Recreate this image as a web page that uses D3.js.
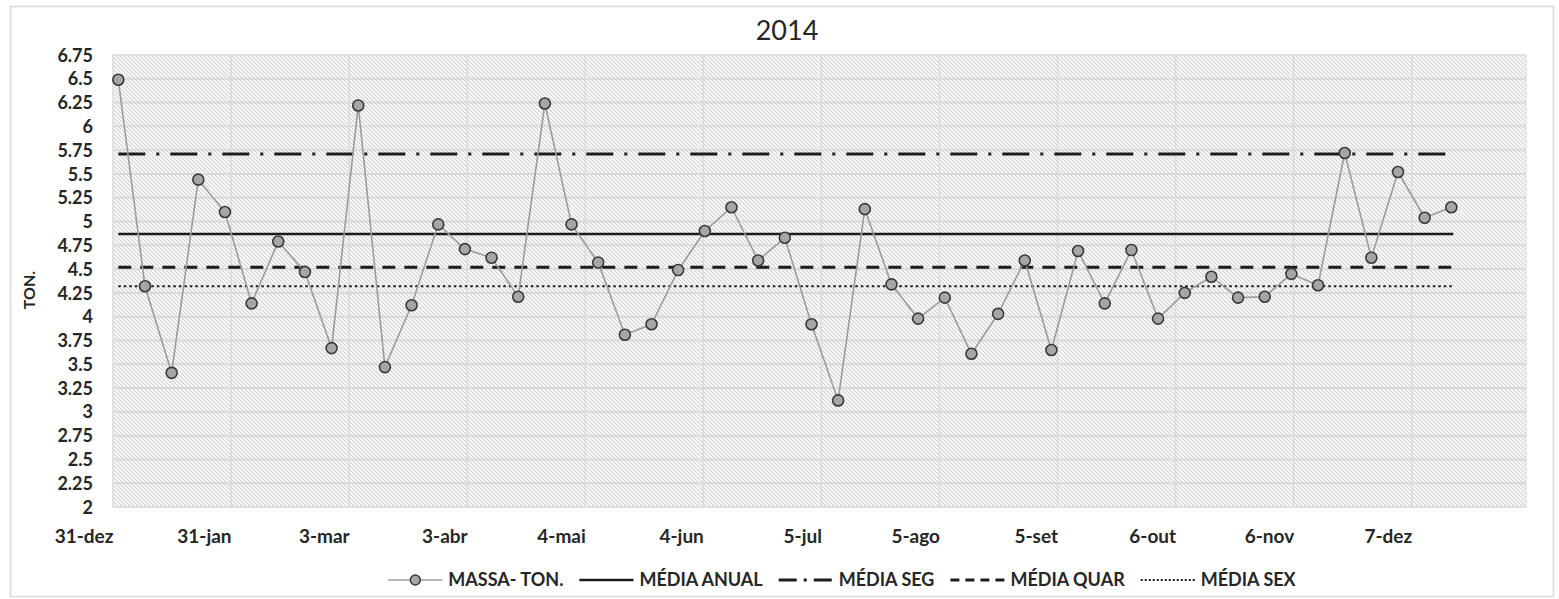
<!DOCTYPE html>
<html>
<head>
<meta charset="utf-8">
<script src="https://cdn.jsdelivr.net/npm/d3@7"></script>
<style>
  html, body { margin: 0; padding: 0; background: #ffffff; }
  svg { display: block; }
  text { font-family: Lato, "Open Sans", sans-serif; fill: #262626; }
</style>
</head>
<body>
<svg id="chart" width="1559" height="599"></svg>
<script>
// ---------- data ----------
const title = "2014";
const yAxisTitle = "TON.";

const dates = [
  "2014-01-01","2014-01-08","2014-01-15","2014-01-22","2014-01-29",
  "2014-02-05","2014-02-12","2014-02-19","2014-02-26",
  "2014-03-05","2014-03-12","2014-03-19","2014-03-26",
  "2014-04-02","2014-04-09","2014-04-16","2014-04-23","2014-04-30",
  "2014-05-07","2014-05-14","2014-05-21","2014-05-28",
  "2014-06-04","2014-06-11","2014-06-18","2014-06-25",
  "2014-07-02","2014-07-09","2014-07-16","2014-07-23","2014-07-30",
  "2014-08-06","2014-08-13","2014-08-20","2014-08-27",
  "2014-09-03","2014-09-10","2014-09-17","2014-09-24",
  "2014-10-01","2014-10-08","2014-10-15","2014-10-22","2014-10-29",
  "2014-11-05","2014-11-12","2014-11-19","2014-11-26",
  "2014-12-03","2014-12-10","2014-12-17"
];

const massa = [
  6.49, 4.32, 3.41, 5.44, 5.10,
  4.14, 4.79, 4.47, 3.67,
  6.22, 3.47, 4.12, 4.97,
  4.71, 4.62, 4.21, 6.24, 4.97,
  4.57, 3.81, 3.92, 4.49,
  4.90, 5.15, 4.59, 4.83,
  3.92, 3.12, 5.13, 4.34, 3.98,
  4.20, 3.61, 4.03, 4.59,
  3.65, 4.69, 4.14, 4.70,
  3.98, 4.25, 4.42, 4.20, 4.21,
  4.45, 4.33, 5.72, 4.62,
  5.52, 5.04, 5.15
];

const mediaAnual = 4.87;
const mediaSeg = 5.71;
const mediaQuar = 4.52;
const mediaSex = 4.32;

const xTickDates = ["2013-12-31","2014-01-31","2014-03-03","2014-04-03","2014-05-04","2014-06-04",
                    "2014-07-05","2014-08-05","2014-09-05","2014-10-06","2014-11-06","2014-12-07"];
const xTickLabels = ["31-dez","31-jan","3-mar","3-abr","4-mai","4-jun","5-jul","5-ago","5-set","6-out","6-nov","7-dez"];
const yTicks = [2, 2.25, 2.5, 2.75, 3, 3.25, 3.5, 3.75, 4, 4.25, 4.5, 4.75, 5, 5.25, 5.5, 5.75, 6, 6.25, 6.5, 6.75];
const xDomain = ["2013-12-31", "2015-01-06"];

const legendLabels = ["MASSA- TON.", "MÉDIA ANUAL", "MÉDIA SEG", "MÉDIA QUAR", "MÉDIA SEX"];

// ---------- layout ----------
const svg = d3.select("#chart");
const plot = { left: 113, right: 1526, top: 55, bottom: 507 };

const parse = d3.utcParse("%Y-%m-%d");
const x = d3.scaleUtc().domain(xDomain.map(parse)).range([plot.left, plot.right]);
const y = d3.scaleLinear().domain([2, 6.75]).range([plot.bottom, plot.top]);
const xp = d => x(d) + 1.5; // series sits slightly right of the date grid

// outer border
svg.append("rect").attr("x", 10.5).attr("y", 6.5).attr("width", 1543).attr("height", 590)
  .attr("fill", "#ffffff").attr("stroke", "#d9d9d9").attr("stroke-width", 1.5);

// hatch pattern
const defs = svg.append("defs");
const pat = defs.append("pattern").attr("id", "hatch").attr("patternUnits", "userSpaceOnUse")
  .attr("width", 4).attr("height", 4);
pat.append("rect").attr("width", 4).attr("height", 4).attr("fill", "#f5f5f5");
pat.append("path").attr("d", "M-1,-1 L5,5 M-1,3 L1,5 M3,-1 L5,1")
  .attr("stroke", "#d0d0d0").attr("stroke-width", 1);

svg.append("rect").attr("x", plot.left).attr("y", plot.top)
  .attr("width", plot.right - plot.left).attr("height", plot.bottom - plot.top)
  .attr("fill", "url(#hatch)");

// grid lines
const grid = svg.append("g");
grid.selectAll("line.h").data(yTicks).join("line").attr("class", "h")
  .attr("x1", plot.left).attr("x2", plot.right)
  .attr("y1", d => y(d)).attr("y2", d => y(d))
  .attr("stroke", "#dadada").attr("stroke-width", 2);
grid.selectAll("line.v").data(xTickDates).join("line").attr("class", "v")
  .attr("x1", d => x(parse(d))).attr("x2", d => x(parse(d)))
  .attr("y1", plot.top).attr("y2", plot.bottom)
  .attr("stroke", "#dadada").attr("stroke-width", 1.5);
svg.append("rect").attr("x", plot.left).attr("y", plot.top)
  .attr("width", plot.right - plot.left).attr("height", plot.bottom - plot.top)
  .attr("fill", "none").attr("stroke", "#e2e2e2").attr("stroke-width", 1.5);

// y axis labels
const yAxis = d3.axisLeft(y).tickValues(yTicks).tickSize(0).tickPadding(0)
  .tickFormat(d => d3.format("")(d));
const gy = svg.append("g").attr("transform", `translate(93,0)`).call(yAxis);
gy.select(".domain").remove();
gy.selectAll("text").style("font-family", "Lato, sans-serif").style("font-weight", "700")
  .style("font-size", "18px").attr("fill", "#262626").attr("dy", "0.34em");

// x axis labels (right-aligned at tick)
const xAxis = d3.axisBottom(x).tickValues(xTickDates.map(parse)).tickSize(0).tickPadding(0)
  .tickFormat((d, i) => xTickLabels[i]);
const gx = svg.append("g").attr("transform", `translate(0,537)`).call(xAxis);
gx.select(".domain").remove();
gx.selectAll("text").attr("text-anchor", "end").attr("dy", "0.34em").attr("y", 0)
  .style("font-family", "Lato, sans-serif").style("font-weight", "700").style("font-size", "19px")
  .attr("fill", "#262626");

// title
svg.append("text").attr("x", 787).attr("y", 31).attr("text-anchor", "middle").attr("dy", "0.35em")
  .style("font-size", "27px").style("font-weight", "400").attr("fill", "#1a1a1a").text(title);

// y axis title
svg.append("text").attr("transform", "translate(29,290) rotate(-90)").attr("text-anchor", "middle")
  .attr("dy", "0.35em").style("font-size", "16px").style("font-weight", "700").text(yAxisTitle);

// reference lines
const first = parse(dates[0]), last = parse(dates[dates.length - 1]);
const refs = [
  { v: mediaAnual, dash: null, w: 2.5 },
  { v: mediaSeg, dash: "27,11,3,11", w: 3 },
  { v: mediaQuar, dash: "13,9", w: 3 },
  { v: mediaSex, dash: "2.5,3", w: 2.2 }
];
svg.append("g").selectAll("line").data(refs).join("line")
  .attr("x1", xp(first)).attr("x2", xp(last) + 2)
  .attr("y1", d => y(d.v)).attr("y2", d => y(d.v))
  .attr("stroke", "#1c1c1c").attr("stroke-width", d => d.w)
  .attr("stroke-dasharray", d => d.dash);

// data series
const pts = dates.map((d, i) => ({ date: parse(d), v: massa[i] }));
const line = d3.line().x(d => xp(d.date)).y(d => y(d.v));
svg.append("path").datum(pts).attr("d", line).attr("fill", "none")
  .attr("stroke", "#9c9c9c").attr("stroke-width", 1.6);
svg.append("g").selectAll("circle").data(pts).join("circle")
  .attr("cx", d => xp(d.date)).attr("cy", d => y(d.v)).attr("r", 5.5)
  .attr("fill", "#a6a6a6").attr("stroke", "#3a3a3a").attr("stroke-width", 1.6);

// legend
const legStyles = [
  { type: "marker" },
  { type: "line", dash: null, w: 2.5 },
  { type: "line", dash: "18,7,3,7", w: 3 },
  { type: "line", dash: "9,6", w: 3 },
  { type: "line", dash: "2,2", w: 2 }
];
const legY = 580, symW = 54, symGap = 6, itemGap = 16;
const leg = svg.append("g");
const items = leg.selectAll("g").data(legendLabels).join("g");
items.append("text").attr("dy", "0.35em").attr("y", legY)
  .style("font-size", "18px").style("font-weight", "700").attr("fill", "#262626")
  .text(d => d);
const widths = [];
items.select("text").each(function() { widths.push(this.getComputedTextLength()); });
let total = 0;
widths.forEach((w, i) => { total += symW + symGap + w + (i < widths.length - 1 ? itemGap : 0); });
let cx = 842 - total / 2;
items.each(function(d, i) {
  const g = d3.select(this);
  const st = legStyles[i];
  g.append("line").attr("x1", cx).attr("x2", cx + symW).attr("y1", legY).attr("y2", legY)
    .attr("stroke", st.type === "marker" ? "#9c9c9c" : "#1c1c1c")
    .attr("stroke-width", st.type === "marker" ? 1.6 : st.w)
    .attr("stroke-dasharray", st.dash || null);
  if (st.type === "marker") {
    g.append("circle").attr("cx", cx + symW / 2).attr("cy", legY).attr("r", 5)
      .attr("fill", "#a6a6a6").attr("stroke", "#3a3a3a").attr("stroke-width", 1.5);
  }
  g.select("text").attr("x", cx + symW + symGap);
  cx += symW + symGap + widths[i] + itemGap;
});
</script>
</body>
</html>
